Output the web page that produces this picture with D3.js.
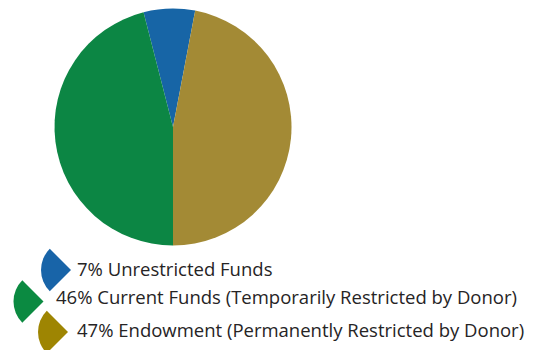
<!DOCTYPE html>
<html>
<head>
<meta charset="utf-8">
<script src="https://cdn.jsdelivr.net/npm/d3@7"></script>
<style>
  html, body { margin: 0; padding: 0; background: #fff; }
  svg { display: block; }
  .legend text { font-family: "Open Sans", "Noto Sans", sans-serif; fill: #262425; }
</style>
</head>
<body>
<svg id="chart" width="540" height="350"></svg>
<script>
// Fund categories, share of total (%), and colours
const categories = [
  "Unrestricted Funds",
  "Current Funds (Temporarily Restricted by Donor)",
  "Endowment (Permanently Restricted by Donor)"
];
const shares = [7, 46, 47];
const sliceColors = ["#1765a6", "#0c8644", "#a38a35"];
const swatchColors = ["#1864a8", "#0b8a41", "#9e8502"];

const svg = d3.select("#chart");

// ---- pie ----
const cx = 173, cy = 127, R = 118.5;
const total = d3.sum(shares);
// Slices run counter-clockwise; the Current/Endowment boundary sits straight down.
const start = -Math.PI + 2 * Math.PI * (shares[0] + shares[1]) / total;
const pie = d3.pie().sort(null).value(d => d).startAngle(start).endAngle(start - 2 * Math.PI);
const arc = d3.arc().innerRadius(0).outerRadius(R);

svg.append("g")
  .attr("transform", `translate(${cx},${cy})`)
  .selectAll("path")
  .data(pie(shares))
  .join("path")
  .attr("d", arc)
  .attr("fill", (d, i) => sliceColors[i]);

// ---- legend: quarter-circle wedges pointing at their labels ----
const wedge = d3.arc().innerRadius(0).outerRadius(30)
  .startAngle(-3 * Math.PI / 4).endAngle(-Math.PI / 4);
const swatchPos = [[71, 270], [43.5, 301.5], [68, 332]];
const textPos = [[77, 276], [56, 303.5], [77, 337]];

const legend = svg.append("g").attr("class", "legend");
const items = legend.selectAll("g")
  .data(categories)
  .join("g");

items.append("path")
  .attr("d", wedge)
  .attr("transform", (d, i) => `translate(${swatchPos[i][0]},${swatchPos[i][1]})`)
  .attr("fill", (d, i) => swatchColors[i]);

items.append("text")
  .attr("x", (d, i) => textPos[i][0])
  .attr("y", (d, i) => textPos[i][1])
  .attr("font-size", 18.5)
  .text((d, i) => `${shares[i]}% ${d}`);
</script>
</body>
</html>
